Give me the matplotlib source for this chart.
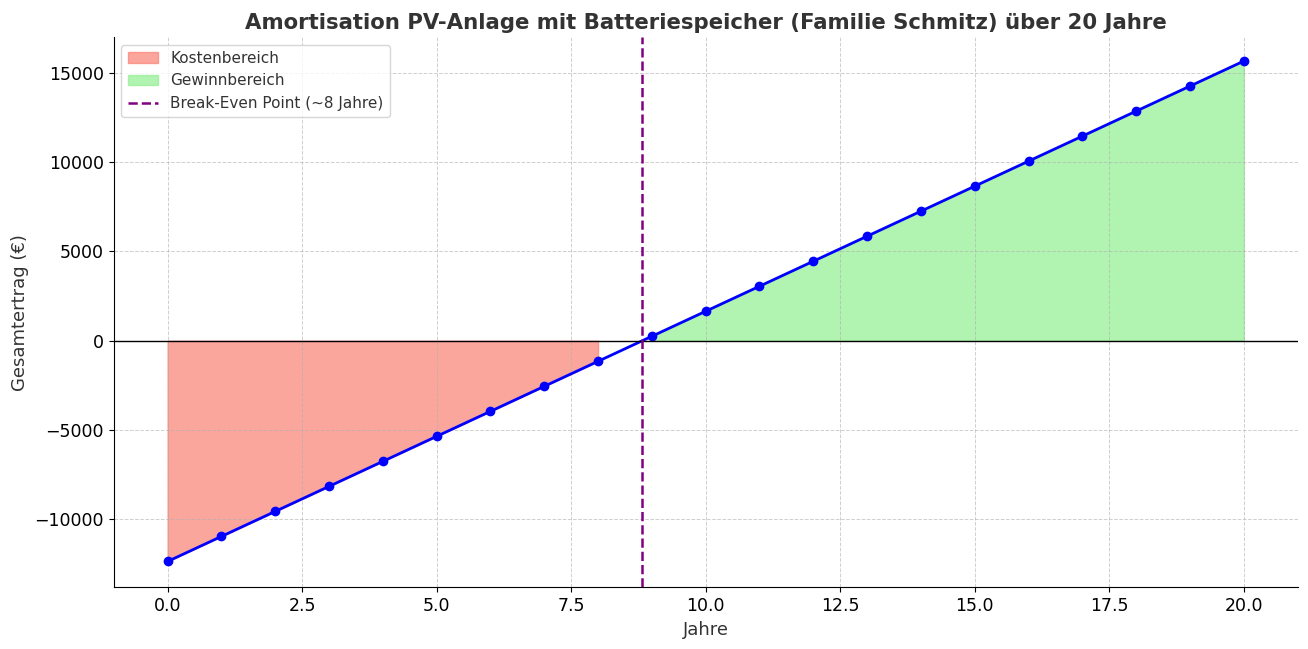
import matplotlib
matplotlib.use("Agg")
import matplotlib.pyplot as plt
import numpy as np

# Jahre und kumulierter Gesamtertrag
years = [0, 1, 2, 3, 4, 5, 6, 7, 8, 9, 10,
         11, 12, 13, 14, 15, 16, 17, 18, 19, 20]
ertrag = [-12350, -10950, -9550, -8150, -6750, -5350, -3950, -2550, -1150, 250, 1650,
          3050, 4450, 5850, 7250, 8650, 10050, 11450, 12850, 14250, 15650]
break_even = 8.82

plt.rcParams["text.color"] = "#333333"
plt.rcParams["axes.labelcolor"] = "#333333"

fig, ax = plt.subplots(figsize=(13.08, 6.49), dpi=100)

x = np.array(years)
y = np.array(ertrag)

ax.fill_between(x, y, 0, where=y < 0, color="salmon", alpha=0.7, label="Kostenbereich")
ax.fill_between(x, y, 0, where=y >= 0, color="lightgreen", alpha=0.7, label="Gewinnbereich")
ax.plot(x, y, color="blue", marker="o", markersize=6, linewidth=2)
ax.axhline(0, color="black", linewidth=1)
ax.axvline(break_even, color="purple", linestyle="--", linewidth=1.8,
           label="Break-Even Point (~8 Jahre)")

ax.set_title("Amortisation PV-Anlage mit Batteriespeicher (Familie Schmitz) über 20 Jahre",
             fontsize=15.3, fontweight="bold", color="#333333", pad=6)
ax.set_xlabel("Jahre", fontsize=13)
ax.set_ylabel("Gesamtertrag (€)", fontsize=13)
ax.tick_params(labelsize=12.5)
ax.set_ylim(-13800, 17000)
ax.grid(True, linestyle="--", linewidth=0.7, alpha=0.6)
ax.spines["top"].set_visible(False)
ax.spines["right"].set_visible(False)
ax.legend(loc="upper left", fontsize=11)

plt.subplots_adjust(left=0.087, right=0.992, top=0.943, bottom=0.095)
plt.savefig("out.png", dpi=100)
